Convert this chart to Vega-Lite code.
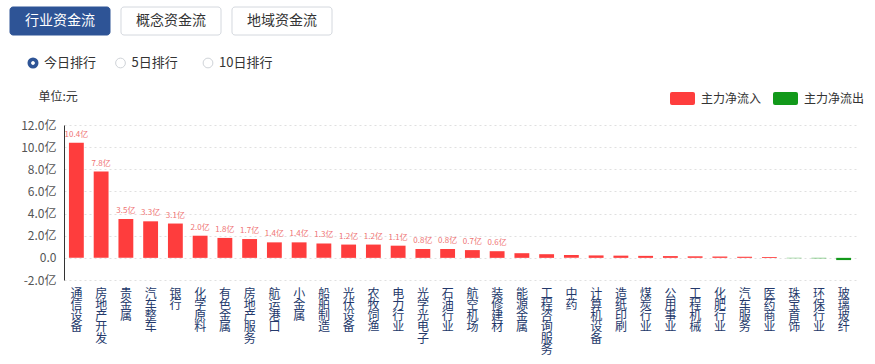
{
  "$schema": "https://vega.github.io/schema/vega-lite/v6.json",
  "padding": {"left": 9, "top": 6, "right": 5, "bottom": 2},
  "background": "white",
  "spacing": 16,
  "config": {"view": {"stroke": null}, "font": "Noto Sans CJK SC", "axisY": {"labelOverlap": false}, "axisQuantitative": {"labelOverlap": false}},
  "datasets": {
    "tabs": [
      {"name": "行业资金流", "sel": true},
      {"name": "概念资金流", "sel": false},
      {"name": "地域资金流", "sel": false}
    ],
    "ranks": [
      {"name": "今日排行", "sel": true},
      {"name": "5日排行", "sel": false},
      {"name": "10日排行", "sel": false}
    ],
    "flows": [
      {"name": "通信设备", "v": 10.4, "type": "主力净流入", "label": "10.4亿"},
      {"name": "房地产开发", "v": 7.8, "type": "主力净流入", "label": "7.8亿"},
      {"name": "贵金属", "v": 3.5, "type": "主力净流入", "label": "3.5亿"},
      {"name": "汽车整车", "v": 3.3, "type": "主力净流入", "label": "3.3亿"},
      {"name": "银行", "v": 3.1, "type": "主力净流入", "label": "3.1亿"},
      {"name": "化学原料", "v": 2.0, "type": "主力净流入", "label": "2.0亿"},
      {"name": "有色金属", "v": 1.8, "type": "主力净流入", "label": "1.8亿"},
      {"name": "房地产服务", "v": 1.7, "type": "主力净流入", "label": "1.7亿"},
      {"name": "航运港口", "v": 1.4, "type": "主力净流入", "label": "1.4亿"},
      {"name": "小金属", "v": 1.4, "type": "主力净流入", "label": "1.4亿"},
      {"name": "船舶制造", "v": 1.3, "type": "主力净流入", "label": "1.3亿"},
      {"name": "光伏设备", "v": 1.2, "type": "主力净流入", "label": "1.2亿"},
      {"name": "农牧饲渔", "v": 1.2, "type": "主力净流入", "label": "1.2亿"},
      {"name": "电力行业", "v": 1.1, "type": "主力净流入", "label": "1.1亿"},
      {"name": "光学光电子", "v": 0.8, "type": "主力净流入", "label": "0.8亿"},
      {"name": "石油行业", "v": 0.8, "type": "主力净流入", "label": "0.8亿"},
      {"name": "航空机场", "v": 0.7, "type": "主力净流入", "label": "0.7亿"},
      {"name": "装修建材", "v": 0.6, "type": "主力净流入", "label": "0.6亿"},
      {"name": "能源金属", "v": 0.42, "type": "主力净流入", "label": ""},
      {"name": "工程咨询服务", "v": 0.33, "type": "主力净流入", "label": ""},
      {"name": "中药", "v": 0.26, "type": "主力净流入", "label": ""},
      {"name": "计算机设备", "v": 0.22, "type": "主力净流入", "label": ""},
      {"name": "造纸印刷", "v": 0.2, "type": "主力净流入", "label": ""},
      {"name": "煤炭行业", "v": 0.18, "type": "主力净流入", "label": ""},
      {"name": "公用事业", "v": 0.16, "type": "主力净流入", "label": ""},
      {"name": "工程机械", "v": 0.14, "type": "主力净流入", "label": ""},
      {"name": "化肥行业", "v": 0.12, "type": "主力净流入", "label": ""},
      {"name": "汽车服务", "v": 0.1, "type": "主力净流入", "label": ""},
      {"name": "医药商业", "v": 0.08, "type": "主力净流入", "label": ""},
      {"name": "珠宝首饰", "v": -0.03, "type": "主力净流出", "label": ""},
      {"name": "环保行业", "v": -0.04, "type": "主力净流出", "label": ""},
      {"name": "玻璃玻纤", "v": -0.2, "type": "主力净流出", "label": ""}
    ]
  },
  "vconcat": [
    {
      "data": {"name": "tabs"},
      "width": 322,
      "height": 28,
      "layer": [
        {
          "mark": {"type": "bar", "cornerRadius": 3, "strokeWidth": 1},
          "encoding": {
            "x": {"field": "name", "type": "nominal", "sort": null, "axis": null,
                  "scale": {"range": [-54, 268], "paddingInner": 0.099, "paddingOuter": 0}},
            "fill": {"condition": {"test": "datum.sel", "value": "#2e5496"}, "value": "white"},
            "stroke": {"condition": {"test": "datum.sel", "value": "#2e5496"}, "value": "#d4d8de"}
          }
        },
        {
          "mark": {"type": "text", "fontSize": 14},
          "encoding": {
            "x": {"field": "name", "type": "nominal", "sort": null, "axis": null},
            "text": {"field": "name"},
            "color": {"condition": {"test": "datum.sel", "value": "white"}, "value": "#333333"}
          }
        }
      ]
    },
    {
      "data": {"name": "ranks"},
      "width": 175,
      "height": 14,
      "layer": [
        {
          "mark": {"type": "point", "shape": "circle", "filled": false, "opacity": 1},
          "encoding": {
            "x": {"field": "name", "type": "nominal", "sort": null, "axis": null,
                  "scale": {"type": "point", "range": [-31, 144], "padding": 0}},
            "size": {"condition": {"test": "datum.sel", "value": 55}, "value": 95},
            "strokeWidth": {"condition": {"test": "datum.sel", "value": 3.6}, "value": 1},
            "stroke": {"condition": {"test": "datum.sel", "value": "#2e5496"}, "value": "#cfd3d8"}
          }
        },
        {
          "mark": {"type": "text", "align": "left", "dx": 11, "fontSize": 13, "color": "#333333"},
          "encoding": {
            "x": {"field": "name", "type": "nominal", "sort": null, "axis": null},
            "text": {"field": "name"}
          }
        }
      ]
    },
    {
      "width": 792,
      "height": 155,
      "data": {"name": "flows"},
      "encoding": {
        "y": {"field": "v", "type": "quantitative",
              "scale": {"domain": [-2, 12], "nice": false, "zero": false},
              "axis": {"title": "单位:元", "titleAngle": 0, "titleAlign": "left", "titleBaseline": "middle",
                       "titleX": -26, "titleY": -28.5, "titleFontSize": 12, "titleFontWeight": "normal",
                       "titleColor": "#333333",
                       "values": [-2, 0, 2, 4, 6, 8, 10, 12], "labelOverlap": false, "labelSeparation": 0,
                       "labelExpr": "datum.value == 0 ? '0.0' : replace(format(datum.value, '.1f'), '−', '-') + '亿'",
                       "labelFontSize": 12, "labelColor": "#555555", "labelPadding": 8, "ticks": false,
                       "domain": true, "domainColor": "#333333", "grid": true, "gridColor": "#e0e0e0",
                       "gridDash": [2, 3]}}
      },
      "layer": [
        {
          "mark": {"type": "bar"},
          "encoding": {
            "x": {"field": "name", "type": "nominal", "sort": null,
                  "scale": {"paddingInner": 0.4, "paddingOuter": 0.2},
                  "axis": {"title": null, "labelAngle": 0, "labelAlign": "center", "labelBaseline": "top",
                           "labelExpr": "split(datum.label, '')", "labelFontSize": 12, "labelLineHeight": 11.3,
                           "labelColor": "#24396b", "labelPadding": 8, "ticks": false, "domain": false,
                           "labelOverlap": false, "labelBound": false, "grid": false}},
            "color": {"field": "type", "type": "nominal",
                      "scale": {"domain": ["主力净流入", "主力净流出"], "range": ["#fe3d3d", "#12991a"]},
                      "legend": {"title": null, "orient": "none", "legendX": 602, "legendY": 75,
                                 "direction": "horizontal", "padding": 4,
                                 "symbolType": "M-0.84,-0.52 L0.84,-0.52 Q1,-0.52 1,-0.36 L1,0.36 Q1,0.52 0.84,0.52 L-0.84,0.52 Q-1,0.52 -1,0.36 L-1,-0.36 Q-1,-0.52 -0.84,-0.52 Z",
                                 "symbolSize": 625, "symbolStrokeWidth": 0, "symbolOpacity": 1,
                                 "labelFontSize": 12, "labelColor": "#333333", "columnPadding": 11, "labelOffset": 6}}
          }
        },
        {
          "mark": {"type": "text", "baseline": "bottom", "dy": -4, "fontSize": 8, "color": "#ef7373"},
          "encoding": {
            "x": {"field": "name", "type": "nominal", "sort": null,
                  "axis": {"title": null, "labelAngle": 0, "labelAlign": "center", "labelBaseline": "top",
                           "labelExpr": "split(datum.label, '')", "labelFontSize": 12, "labelLineHeight": 11.3,
                           "labelColor": "#24396b", "labelPadding": 8, "ticks": false, "domain": false,
                           "labelOverlap": false, "labelBound": false, "grid": false}},
            "text": {"field": "label"}
          }
        },
        {
          "data": {"values": [{"z": 0}]},
          "mark": {"type": "rule", "color": "#333333", "strokeWidth": 1},
          "encoding": {"y": {"datum": 0}}
        }
      ]
    }
  ]
}
